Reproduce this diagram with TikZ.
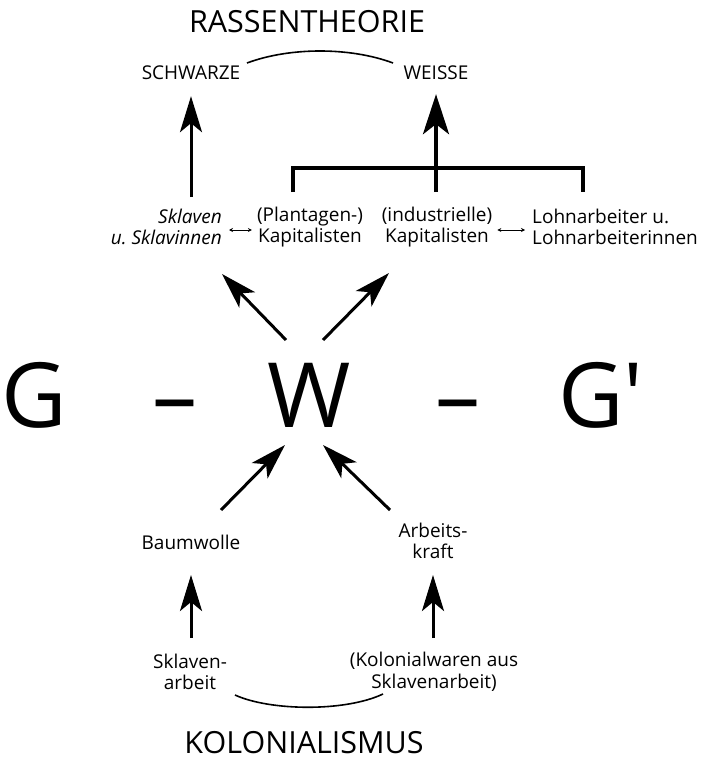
\documentclass[tikz,border=0pt]{standalone}
\usepackage{fontspec}
\setmainfont{Open Sans}
\newfontfamily\bigf{Open Sans}
\usetikzlibrary{arrows.meta,calc}
\frenchspacing
\begin{document}
\begin{tikzpicture}[x=1pt,y=-1pt,
  lbl/.style={font=\fontsize{19}{21.5}\selectfont, align=center, inner sep=0pt},
  ttl/.style={font=\fontsize{30.5}{34}\selectfont, inner sep=0pt},
  big/.style={font=\bigf\fontsize{90}{100}\selectfont, inner sep=0pt, anchor=base},
  arr/.style={line width=3pt, -{Stealth[length=36pt,width=22pt,inset=9pt]}},
  arrbig/.style={line width=4pt, -{Stealth[length=40pt,width=26pt,inset=10pt]}},
  brk/.style={line width=4pt, line cap=butt, line join=miter},
  dbl/.style={line width=0.9pt, {Stealth[length=4pt,width=4pt]}-{Stealth[length=4pt,width=4pt]}},
  arcline/.style={line width=1.6pt}
]
\useasboundingbox (0,0) rectangle (703,760);
\fill[white] (0,0) rectangle (703,760);

% top
\node[ttl] (rass) at (307,22) {RASSENTHEORIE};
\node[lbl] (schw) at (191,73) {SCHWARZE};
\node[lbl] (weiss) at (436,73) {WEISSE};
\coordinate (arcA) at (247,63);
\coordinate (arcB) at (393,63);
\draw[arcline] (arcA) .. controls (290,47) and (350,47) .. (arcB);

% upper row
\node[lbl, anchor=east, align=right, font=\fontsize{19}{21.5}\selectfont\itshape] (skl) at (222,227) {Sklaven\\u.\ Sklavinnen};
\node[lbl] (plant) at (310,227) {(Plantagen-)\\Kapitalisten};
\node[lbl] (indus) at (437,227) {(industrielle)\\Kapitalisten};
\node[lbl, anchor=west, align=left] (lohn) at (532,227) {Lohnarbeiter u.\\Lohnarbeiterinnen};

\draw[dbl] ($(skl.east)+(7,3)$) -- ($(plant.west)+(-5,3)$);
\draw[dbl] ($(indus.east)+(5,3)$) -- ($(lohn.west)+(-7,3)$);

% bracket
\coordinate (bL) at (293,192);
\coordinate (bM) at (436,192);
\coordinate (bR) at (583,192);
\coordinate (bTop) at (436,168);
\draw[brk] (bL) -- (bL |- bTop) -- (bR |- bTop) -- (bR);
\draw[brk] (bM) -- (bTop);
\draw[arrbig] (bTop) -- ($(weiss.south)+(0,14)$);
\coordinate (sA) at (191,197);
\draw[arr] (sA) -- ($(schw.south)+(0,16)$);

% middle
\node[big] (g1) at (34,427) {G};
\node[big] (d1) at (175,427) {–};
\node[big] (w) at (309,427) {W};
\node[big] (d2) at (458,427) {–};
\node[big] (g2) at (601,427) {G'};

\coordinate (uL0) at (286,340);
\coordinate (uL1) at (222,274);
\coordinate (uR0) at (323,340);
\coordinate (uR1) at (389,273);
\draw[arr] (uL0) -- (uL1);
\draw[arr] (uR0) -- (uR1);

\coordinate (lL0) at (221,510);
\coordinate (lL1) at (285,445);
\coordinate (lR0) at (390,510);
\coordinate (lR1) at (323,445);
\draw[arr] (lL0) -- (lL1);
\draw[arr] (lR0) -- (lR1);

% lower
\node[lbl] (baum) at (191,542) {Baumwolle};
\node[lbl] (arb) at (433,541) {Arbeits-\\kraft};
\node[lbl] (sklarb) at (190,672) {Sklaven-\\arbeit};
\node[lbl] (kolw) at (434,672) {(Kolonialwaren aus\\Sklavenarbeit)};

\coordinate (vL0) at (191,638);
\coordinate (vL1) at (191,575);
\coordinate (vR0) at (433,638);
\coordinate (vR1) at (433,575);
\draw[arr] (vL0) -- (vL1);
\draw[arr] (vR0) -- (vR1);

\coordinate (bA) at (235,695);
\coordinate (bB) at (383,694);
\draw[arcline] (bA) .. controls (270,711) and (345,712) .. (bB);

\node[ttl] (kol) at (304,743) {KOLONIALISMUS};
\end{tikzpicture}
\end{document}
